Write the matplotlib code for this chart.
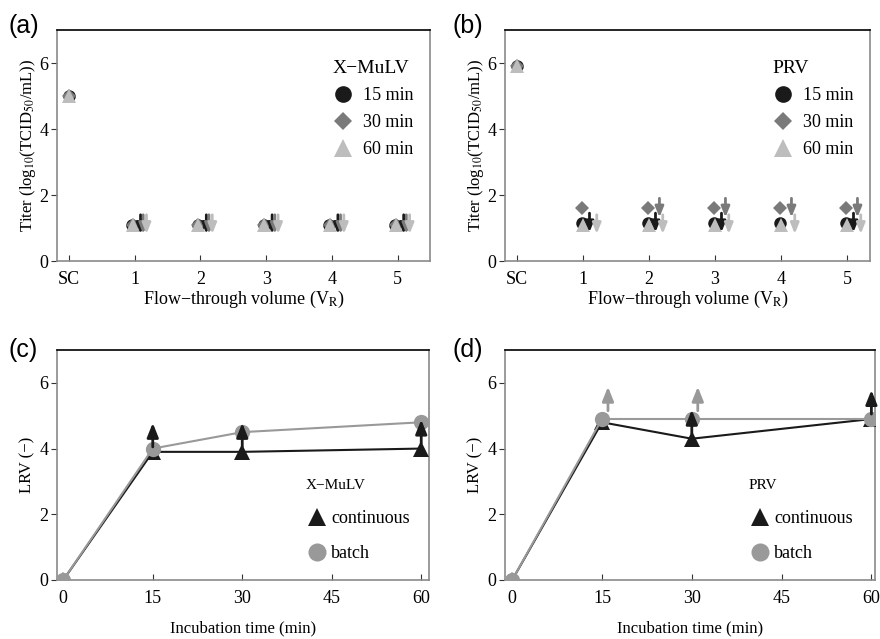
import matplotlib
matplotlib.use('Agg')
import matplotlib.pyplot as plt
import numpy as np
from matplotlib.lines import Line2D

plt.rcParams['font.family'] = ['Liberation Serif', 'DejaVu Serif']
plt.rcParams['mathtext.fontset'] = 'stix'
plt.rcParams['axes.unicode_minus'] = True

# ---------------- data ----------------
fv_labels = ['SC', '1', '2', '3', '4', '5']
fv_x = [0, 1, 2, 3, 4, 5]
incub_times = ['15 min', '30 min', '60 min']

xmulv_15 = [5.0, 1.1, 1.1, 1.1, 1.1, 1.1]
xmulv_30 = [5.0, 1.1, 1.1, 1.1, 1.1, 1.1]
xmulv_60 = [5.0, 1.1, 1.1, 1.1, 1.1, 1.1]
xmulv_15_lod = [False, True, True, True, True, True]
xmulv_30_lod = [False, True, True, True, True, True]
xmulv_60_lod = [False, True, True, True, True, True]

prv_15 = [5.9, 1.15, 1.15, 1.15, 1.15, 1.15]
prv_30 = [5.9, 1.6, 1.6, 1.6, 1.6, 1.6]
prv_60 = [5.9, 1.1, 1.1, 1.1, 1.1, 1.1]
prv_15_lod = [False, True, True, True, False, True]
prv_30_lod = [False, False, True, True, True, True]
prv_60_lod = [False, True, True, True, True, True]

time_min = [0, 15, 30, 60]
xmulv_cont = [0.0, 3.9, 3.9, 4.0]
xmulv_batch = [0.0, 4.0, 4.5, 4.8]
xmulv_cont_gt = [False, True, True, True]
xmulv_batch_gt = [False, False, False, False]
prv_cont = [0.0, 4.8, 4.3, 4.9]
prv_batch = [0.0, 4.9, 4.9, 4.9]
prv_cont_gt = [False, False, True, True]
prv_batch_gt = [False, True, True, False]

# ---------------- styles ----------------
C_BLACK = '#1a1a1a'
C_DARK = '#7a7a7a'
C_LIGHT = '#bdbdbd'
C_BATCH = '#999999'
SPINE_GRAY = '#8a8a8a'
SERIF = ['Liberation Serif', 'DejaVu Serif']

fig = plt.figure(figsize=(8.8, 6.39), dpi=100)
W, H = 880, 639


def add_ax(l, t, r, b):
    return fig.add_axes([l / W, 1 - b / H, (r - l) / W, (b - t) / H])


axA = add_ax(57, 30, 430, 261)
axB = add_ax(505, 30, 870, 261)
axC = add_ax(57, 350, 429, 580)
axD = add_ax(505, 350, 875, 580)


def style(ax):
    for s in ['left', 'right', 'bottom']:
        ax.spines[s].set_color(SPINE_GRAY)
        ax.spines[s].set_linewidth(1.2)
    ax.spines['top'].set_color('black')
    ax.spines['top'].set_linewidth(1.2)
    ax.tick_params(axis='x', direction='in', length=4, color='#333333', labelsize=13, pad=7)
    ax.tick_params(axis='y', direction='out', length=4, color='#333333', labelsize=13, pad=2)
    ax.set_yticks([0, 2, 4, 6])


def fix_ticks(ax):
    for t in ax.get_xticklabels() + ax.get_yticklabels():
        t.set_fontfamily(SERIF)


def down_arrow(ax, x, y, color):
    ax.annotate('', xy=(x, y - 0.28), xytext=(x, y + 0.3),
                arrowprops=dict(arrowstyle='-|>,head_length=0.45,head_width=0.18',
                                color=color, lw=2.0,
                                mutation_scale=14, shrinkA=0, shrinkB=0),
                zorder=5)


def up_arrow(ax, x, y, color):
    ax.annotate('', xy=(x, y + 0.88), xytext=(x, y + 0.15),
                arrowprops=dict(arrowstyle='-|>,head_length=0.5,head_width=0.2',
                                color=color, lw=2.0,
                                mutation_scale=17, shrinkA=0, shrinkB=0),
                zorder=6)


def titer_panel(ax, s15, s30, s60, l15, l30, l60, title, moff, aoff, xmax):
    style(ax)
    series = [(s15, l15, 'o', C_BLACK, 9),
              (s30, l30, 'D', C_DARK, 7),
              (s60, l60, '^', C_LIGHT, 10)]
    for i, (vals, lod, mk, col, ms) in enumerate(series):
        xs = [x + (moff[i] if x > 0 else 0) for x in fv_x]
        ax.plot(xs, vals, ls='none', marker=mk, color=col, ms=ms,
                markeredgewidth=0, zorder=3 + i * 0.1)
        for x, v, flag in zip(fv_x, vals, lod):
            if flag:
                down_arrow(ax, x + aoff[i], v, col)
    ax.set_xlim(-0.18, xmax)
    ax.set_ylim(0, 7)
    ax.set_xticks(fv_x)
    ax.set_xticklabels(fv_labels)
    fix_ticks(ax)
    handles = [Line2D([], [], ls='none', marker='o', color=C_BLACK, ms=12, mew=0),
               Line2D([], [], ls='none', marker='D', color=C_DARK, ms=9, mew=0),
               Line2D([], [], ls='none', marker='^', color=C_LIGHT, ms=13, mew=0)]
    ax.legend(handles, incub_times, title=title, frameon=False,
              loc='upper right', bbox_to_anchor=(1.0, 0.94),
              fontsize=13, title_fontsize=14, labelspacing=0.55,
              handletextpad=0.5, handlelength=1.2, alignment='left')
    ax.set_ylabel(r'Titer (log$_{10}$(TCID$_{50}$/mL))', fontsize=12, labelpad=1)
    ax.set_xlabel(r'Flow−through volume (V$_{\mathrm{R}}$)', fontsize=13, labelpad=1)


titer_panel(axA, xmulv_15, xmulv_30, xmulv_60, xmulv_15_lod, xmulv_30_lod,
            xmulv_60_lod, 'X−MuLV', moff=[-0.04, -0.03, -0.03], aoff=[0.09, 0.13, 0.18],
            xmax=5.49)
titer_panel(axB, prv_15, prv_30, prv_60, prv_15_lod, prv_30_lod,
            prv_60_lod, 'PRV', moff=[-0.02, -0.01, 0.0], aoff=[0.10, 0.16, 0.21],
            xmax=5.35)


def lrv_panel(ax, cont, batch, cgt, bgt, title, xmax, xmin, lx):
    style(ax)
    ax.plot(time_min, cont, color=C_BLACK, lw=1.5, marker='^', ms=11,
            markeredgewidth=0, zorder=3)
    ax.plot(time_min, batch, color=C_BATCH, lw=1.5, marker='o', ms=11,
            markeredgewidth=0, zorder=4)
    for t, v, f in zip(time_min, cont, cgt):
        if f:
            up_arrow(ax, t, v, C_BLACK)
    for t, v, f in zip(time_min, batch, bgt):
        if f:
            up_arrow(ax, t + 1, v + 0.1, C_BATCH)
    ax.set_xlim(xmin, xmax)
    ax.set_ylim(0, 7)
    ax.set_xticks([0, 15, 30, 45, 60])
    fix_ticks(ax)
    handles = [Line2D([], [], ls='none', marker='^', color=C_BLACK, ms=13, mew=0),
               Line2D([], [], ls='none', marker='o', color=C_BATCH, ms=13, mew=0)]
    ax.legend(handles, ['continuous', 'batch'], title=title, frameon=False,
              loc='upper left', bbox_to_anchor=(lx, 0.51),
              fontsize=13, title_fontsize=11, labelspacing=1.0,
              handletextpad=0.2, handlelength=1.2, alignment='left')
    ax.set_ylabel('LRV (−)', fontsize=12, labelpad=3)
    ax.set_xlabel('Incubation time (min)', fontsize=12, labelpad=10)


lrv_panel(axC, xmulv_cont, xmulv_batch, xmulv_cont_gt, xmulv_batch_gt, 'X−MuLV', 61.3, -1.05, 0.625)
lrv_panel(axD, prv_cont, prv_batch, prv_cont_gt, prv_batch_gt, 'PRV', 60.6, -1.2, 0.615)

for lab, x, y in [('(a)', 8, 33), ('(b)', 452, 33), ('(c)', 8, 357), ('(d)', 452, 357)]:
    fig.text(x / W, 1 - y / H, lab, fontsize=18, family=['Liberation Sans', 'DejaVu Sans'])

fig.savefig('out.png', dpi=100)
